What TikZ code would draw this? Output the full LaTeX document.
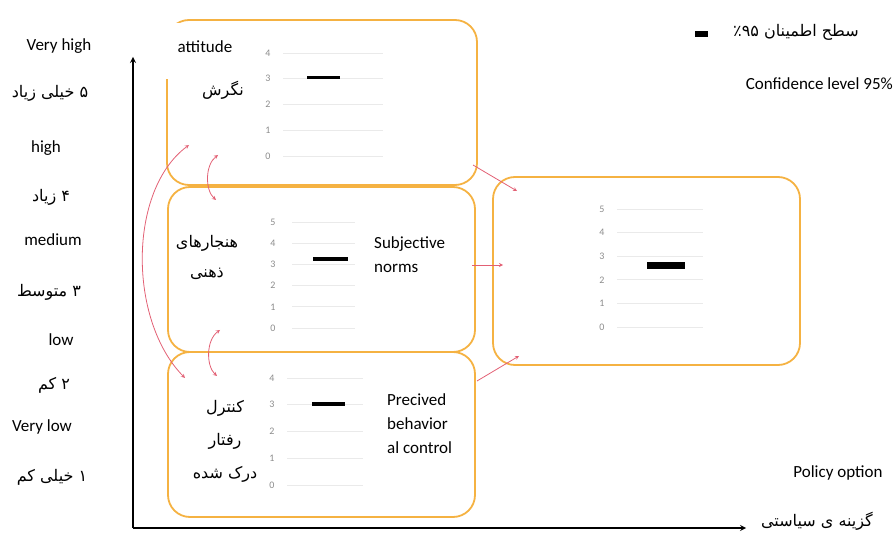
\documentclass[tikz,border=0pt]{standalone}
\usepackage{fontspec}
\setmainfont{Carlito}
\newfontfamily\fa[Script=Arabic]{DejaVu Sans}
\TeXXeTstate=1
\usetikzlibrary{positioning}
\definecolor{boxorange}{RGB}{245,178,66}
\definecolor{linkred}{RGB}{226,96,116}
\definecolor{gridgrey}{RGB}{234,234,234}
\definecolor{numgrey}{RGB}{140,140,140}

\begin{document}
\begin{tikzpicture}[x=1pt, y=-1pt]
    \tikzset{
        panel/.style = {rectangle, rounded corners=22pt, draw=boxorange, line width=1.8pt},
        entext/.style = {font=\fontsize{17}{24}\selectfont, inner sep=0pt},
        fatext/.style = {font=\fa\fontsize{16}{30}\selectfont, inner sep=0pt},
        ticknum/.style = {font=\fontsize{10}{10}\selectfont, text=numgrey, inner sep=0pt},
        gridline/.style = {gridgrey, line width=0.8pt},
        meanbar/.style = {rectangle, fill=black, inner sep=0pt},
        arrow/.style = {linkred, line width=0.8pt, ->, >=stealth},
        twoway/.style = {linkred, line width=0.8pt, <->, >=stealth},
        axisline/.style = {black, line width=1.6pt, ->, >=stealth}
    }
    \useasboundingbox (0,0) rectangle (894,534);

    % axes
    \coordinate (origin) at (133,528);
    \coordinate (ytip) at (133,57);
    \coordinate (xtip) at (746,528);
    \draw [axisline] (origin) -- (ytip);
    \draw [axisline] (origin) -- (xtip);

    % scale on the left
    \node (vhigh) [entext] at (59,46) {Very high};
    \node (vhighfa) [fatext] at (50,93) {\beginR ۵ خیلی زیاد\endR};
    \node (high) [entext] at (46,148) {high};
    \node (highfa) [fatext] at (51,197) {\beginR ۴ زیاد\endR};
    \node (medium) [entext] at (53,240) {medium};
    \node (mediumfa) [fatext] at (49,292) {\beginR ۳ متوسط\endR};
    \node (low) [entext] at (61,340) {low};
    \node (lowfa) [fatext] at (54,385) {\beginR ۲ کم\endR};
    \node (vlow) [entext] at (42,427) {Very low};
    \node (vlowfa) [fatext] at (52,477) {\beginR ۱ خیلی کم\endR};

    % panels
    \node (att) [panel, minimum width=310, minimum height=165] at (322,102.5) {};
    \node (sn) [panel, minimum width=307, minimum height=165] at (321.5,269.5) {};
    \node (pbc) [panel, minimum width=307, minimum height=165] at (321.5,434.5) {};
    \node (res) [panel, minimum width=307, minimum height=188] at (646.5,271) {};

    % attitude
    \node (attlabel) [entext, fill=white, minimum width=86, minimum height=56, text depth=9pt] at (205,51) {attitude};
    \node (attfa) [fatext] at (223,90) {\beginR نگرش\endR};
    \foreach \v in {0,...,4} {
        \node (tA\v) [ticknum] at (268,{156-25.75*\v}) {\v};
        \draw [gridline] (283,{156-25.75*\v}) -- (383,{156-25.75*\v});
    }
    \node (barA) [meanbar, minimum width=33, minimum height=3] at (323.5,78) {};

    % subjective norms
    \node (snfa) [fatext, align=center] at (207,257) {\beginR هنجارهای\endR\\\beginR ذهنی\endR};
    \node (snlabel) [entext, align=left, anchor=west] at (374,255) {Subjective\\norms};
    \foreach \v in {0,...,5} {
        \node (tB\v) [ticknum] at (273,{328-21.2*\v}) {\v};
        \draw [gridline] (292,{328-21.2*\v}) -- (355,{328-21.2*\v});
    }
    \node (barB) [meanbar, minimum width=35, minimum height=4] at (330.5,259) {};

    % perceived behavioral control
    \node (pbcfa) [fatext, font=\fa\fontsize{16}{33}\selectfont, align=center] at (225,441) {\beginR کنترل\endR\\\beginR رفتار\endR\\\beginR درک شده\endR};
    \node (pbclabel) [entext, align=left, anchor=west] at (387,424) {Precived\\behavior\\al control};
    \foreach \v in {0,...,4} {
        \node (tC\v) [ticknum] at (272,{485-26.75*\v}) {\v};
        \draw [gridline] (287,{485-26.75*\v}) -- (363,{485-26.75*\v});
    }
    \node (barC) [meanbar, minimum width=33, minimum height=4] at (328.5,404) {};

    % result
    \foreach \v in {0,...,5} {
        \node (tD\v) [ticknum] at (602,{327-23.6*\v}) {\v};
        \draw [gridline] (617,{327-23.6*\v}) -- (703,{327-23.6*\v});
    }
    \node (barD) [meanbar, minimum width=38, minimum height=7] at (666,266) {};

    % legend and axis names
    \node (key) [meanbar, minimum width=13, minimum height=6] at (701.5,34) {};
    \node (keyfa) [fatext] at (796,32) {\beginR سطح اطمینان \beginL۹۵\endL٪\endR};
    \node (keylabel) [entext, anchor=east] at (893,84) {Confidence level 95\%};
    \node (policy) [entext] at (838,473) {Policy option};
    \node (policyfa) [fatext] at (817,521) {\beginR گزینه ی سیاستی\endR};

    % links
    \coordinate (attOut) at (473,165);
    \coordinate (resTop) at (517,191);
    \coordinate (snOut) at (472,265);
    \coordinate (resMid) at (503,265);
    \coordinate (pbcOut) at (477,381);
    \coordinate (resLow) at (519,356);
    \draw [arrow] (attOut) -- (resTop);
    \draw [arrow] (snOut) -- (resMid);
    \draw [arrow] (pbcOut) -- (resLow);

    \coordinate (attA) at (189,145);
    \coordinate (pbcA) at (185,378);
    \coordinate (attB) at (218,155);
    \coordinate (snB) at (216,200);
    \coordinate (snC) at (220,330);
    \coordinate (pbcC) at (217,376);
    \draw [twoway] (attA) .. controls (128,190) and (128,320) .. (pbcA);
    \draw [twoway] (attB) .. controls (205,165) and (205,190) .. (snB);
    \draw [twoway] (snC) .. controls (206,340) and (206,366) .. (pbcC);
\end{tikzpicture}
\end{document}
